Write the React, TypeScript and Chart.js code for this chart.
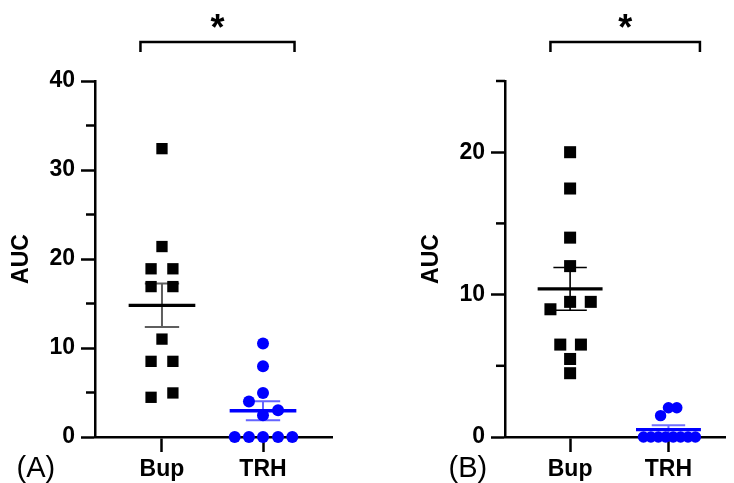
import React, { useEffect, useRef } from 'react';
import { Chart, registerables } from 'chart.js';

Chart.register(...registerables);

// ---------- data ----------
const categories = ['Bup', 'TRH'];
const categoryPositions = [1, 2];

// Panel A
const bupAX = [1, 1, 0.892, 1.108, 0.892, 1.108, 1, 0.892, 1.108, 0.892, 1.108];
const bupAY = [32.4, 21.4, 18.9, 18.9, 16.9, 16.9, 11.0, 8.5, 8.5, 4.46, 4.95];
const trhAX = [2, 2, 2, 1.861, 2.149, 2, 1.72, 1.861, 2, 2.149, 2.29];
const trhAY = [10.5, 7.94, 4.95, 4.0, 3.0, 2.44, 0, 0, 0, 0, 0];
const meansA = [14.8, 2.95];
const semA = [2.45, 1.06];
const yMajorA = [0, 10, 20, 30, 40];
const yMinorA = [5, 15, 25, 35];

// Panel B
const bupBX = [1, 1, 1, 1, 1, 1.21, 0.8, 0.9, 1.11, 1, 1];
const bupBY = [20.0, 17.45, 14.0, 12.0, 9.49, 9.49, 8.97, 6.49, 6.49, 5.48, 4.48];
const trhBX = [1.92, 2.0, 2.085, 1.746, 1.821, 1.897, 1.972, 2.048, 2.123, 2.199, 2.274];
const trhBY = [1.5, 2.05, 2.05, 0, 0, 0, 0, 0, 0, 0, 0];
const meansB = [10.4, 0.52];
const semB = [1.5, 0.3];
const yMajorB = [0, 10, 20];
const yMinorB = [5, 15, 25];

const FONT = '"Liberation Sans", Arial, sans-serif';

type Spec = {
  left: number;
  width: number;
  padRight: number;
  xMin: number;
  xMax: number;
  yMax: number;
  yMajor: number[];
  yMinor: number[];
  bupX: number[];
  bupY: number[];
  trhX: number[];
  trhY: number[];
  means: number[];
  sems: number[];
  errColors: string[];
  errWidths: number[];
  sqRadius: number;
  cRadius: number;
  label: string;
  labelX: number;
  bracket: number[];
};

const specA: Spec = {
  left: 0,
  width: 367,
  padRight: 35,
  xMin: 0.337,
  xMax: 2.683,
  yMax: 40,
  yMajor: yMajorA,
  yMinor: yMinorA,
  bupX: bupAX,
  bupY: bupAY,
  trhX: trhAX,
  trhY: trhAY,
  means: meansA,
  sems: semA,
  errColors: ['#5e5e5e', '#6464ff'],
  errWidths: [2, 2],
  sqRadius: 8,
  cRadius: 6,
  label: '(A)',
  labelX: 16.5,
  bracket: [0.787, 2.312],
};

const specB: Spec = {
  left: 410,
  width: 324,
  padRight: 1,
  xMin: 0.338,
  xMax: 2.58,
  yMax: 25,
  yMajor: yMajorB,
  yMinor: yMinorB,
  bupX: bupBX,
  bupY: bupBY,
  trhX: trhBX,
  trhY: trhBY,
  means: meansB,
  sems: semB,
  errColors: ['#000000', '#7070ff'],
  errWidths: [1.6, 2],
  sqRadius: 8.5,
  cRadius: 5.7,
  label: '(B)',
  labelX: 38.5,
  bracket: [0.8, 2.32],
};

function Panel({ spec }: { spec: Spec }) {
  const ref = useRef<HTMLCanvasElement | null>(null);

  useEffect(() => {
    const canvas = ref.current;
    if (!canvas) return;

    const annot = {
      id: 'annot',
      beforeDatasetsDraw(chart: any) {
        const ctx = chart.ctx;
        const xs = chart.scales.x;
        const ys = chart.scales.y;
        ctx.save();
        spec.means.forEach((m, i) => {
          const cx = categoryPositions[i];
          const px = xs.getPixelForValue(cx);
          const t = ys.getPixelForValue(m + spec.sems[i]);
          const b = ys.getPixelForValue(m - spec.sems[i]);
          const l = xs.getPixelForValue(cx - 0.17);
          const r = xs.getPixelForValue(cx + 0.17);
          ctx.strokeStyle = spec.errColors[i];
          ctx.lineWidth = spec.errWidths[i];
          ctx.beginPath();
          ctx.moveTo(px, t);
          ctx.lineTo(px, b);
          ctx.moveTo(l, t);
          ctx.lineTo(r, t);
          ctx.moveTo(l, b);
          ctx.lineTo(r, b);
          ctx.stroke();
        });
        ctx.restore();
      },
      afterDatasetsDraw(chart: any) {
        const ctx = chart.ctx;
        const xs = chart.scales.x;
        const ys = chart.scales.y;
        ctx.save();
        const colors = ['#000000', '#0000ff'];
        spec.means.forEach((m, i) => {
          const cx = categoryPositions[i];
          const py = ys.getPixelForValue(m);
          ctx.strokeStyle = colors[i];
          ctx.lineWidth = 3.3;
          ctx.beginPath();
          ctx.moveTo(xs.getPixelForValue(cx - 0.33), py);
          ctx.lineTo(xs.getPixelForValue(cx + 0.33), py);
          ctx.stroke();
        });
        ctx.restore();
      },
      afterDraw(chart: any) {
        const ctx = chart.ctx;
        const xs = chart.scales.x;
        const ys = chart.scales.y;
        const area = chart.chartArea;
        ctx.save();
        // minor ticks
        ctx.strokeStyle = '#000';
        ctx.lineWidth = 2.5;
        spec.yMinor.forEach((v) => {
          const py = ys.getPixelForValue(v);
          ctx.beginPath();
          ctx.moveTo(area.left - 9, py);
          ctx.lineTo(area.left, py);
          ctx.stroke();
        });
        // bracket
        const bl = xs.getPixelForValue(spec.bracket[0]);
        const br = xs.getPixelForValue(spec.bracket[1]);
        const by = area.top - 39;
        ctx.lineWidth = 2.5;
        ctx.lineJoin = 'miter';
        ctx.beginPath();
        ctx.moveTo(bl, by + 10);
        ctx.lineTo(bl, by);
        ctx.lineTo(br, by);
        ctx.lineTo(br, by + 10);
        ctx.stroke();
        // asterisk
        ctx.fillStyle = '#000';
        ctx.font = `bold 36px ${FONT}`;
        ctx.textAlign = 'center';
        ctx.textBaseline = 'alphabetic';
        ctx.fillText('*', (bl + br) / 2, area.top - 41);
        // panel label
        ctx.font = `29px ${FONT}`;
        ctx.textAlign = 'left';
        ctx.fillText(spec.label, spec.labelX, 477);
        ctx.restore();
      },
    };

    const chart = new Chart(canvas, {
      type: 'scatter',
      data: {
        datasets: [
          {
            data: spec.bupX.map((x, i) => ({ x, y: spec.bupY[i] })),
            pointStyle: 'rect',
            pointRadius: spec.sqRadius,
            pointBackgroundColor: '#000000',
            pointBorderWidth: 0,
            backgroundColor: '#000000',
            borderWidth: 0,
            clip: false,
          },
          {
            data: spec.trhX.map((x, i) => ({ x, y: spec.trhY[i] })),
            pointStyle: 'circle',
            pointRadius: spec.cRadius,
            pointBackgroundColor: '#0000ff',
            pointBorderWidth: 0,
            backgroundColor: '#0000ff',
            borderWidth: 0,
            clip: false,
          },
        ],
      },
      options: {
        animation: false,
        responsive: false,
        maintainAspectRatio: false,
        events: [],
        layout: { padding: { left: 0, top: 81, right: spec.padRight, bottom: 0 } },
        plugins: { legend: { display: false }, tooltip: { enabled: false } },
        scales: {
          x: {
            type: 'linear',
            position: 'bottom',
            min: spec.xMin,
            max: spec.xMax,
            afterBuildTicks: (s: any) => {
              s.ticks = categoryPositions.map((v) => ({ value: v }));
            },
            afterFit: (s: any) => {
              s.height = 46;
            },
            ticks: {
              autoSkip: false,
              maxRotation: 0,
              padding: 4,
              color: '#000',
              font: { family: FONT, size: 23, weight: 'bold' },
              callback: (_v: any, i: number) => categories[i],
            },
            grid: { drawOnChartArea: false, drawTicks: true, tickLength: 15, tickWidth: 2.5, tickColor: '#000' },
            border: { display: true, color: '#000', width: 2.5 },
          },
          y: {
            type: 'linear',
            position: 'left',
            min: 0,
            max: spec.yMax,
            afterBuildTicks: (s: any) => {
              s.ticks = spec.yMajor.map((v) => ({ value: v }));
            },
            afterFit: (s: any) => {
              s.width = 95;
            },
            ticks: {
              padding: 6,
              color: '#000',
              font: { family: FONT, size: 23, weight: 'bold' },
              callback: (v: any) => String(v),
            },
            title: {
              display: true,
              text: 'AUC',
              color: '#000',
              font: { family: FONT, size: 23, weight: 'bold' },
              padding: { top: 8, bottom: 0 },
            },
            grid: { drawOnChartArea: false, drawTicks: true, tickLength: 14, tickWidth: 2.5, tickColor: '#000' },
            border: { display: true, color: '#000', width: 2.5 },
          },
        },
      } as any,
      plugins: [annot],
    });

    return () => chart.destroy();
  }, [spec]);

  return (
    <canvas
      ref={ref}
      width={spec.width}
      height={483}
      style={{ position: 'absolute', left: spec.left, top: 0, width: spec.width, height: 483 }}
    />
  );
}

export default function App() {
  return (
    <div style={{ position: 'fixed', left: 0, top: 0, width: 734, height: 483, background: '#fff' }}>
      <Panel spec={specA} />
      <Panel spec={specB} />
    </div>
  );
}
